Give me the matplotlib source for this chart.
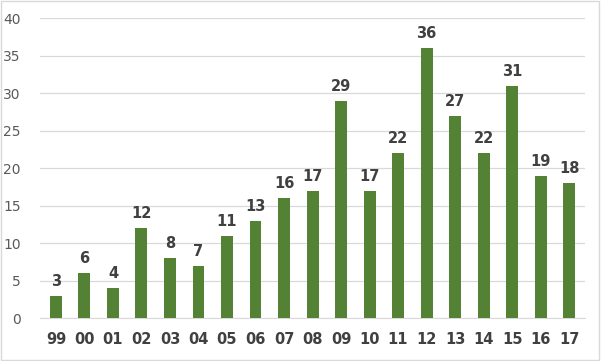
import matplotlib.pyplot as plt

years = ["99", "00", "01", "02", "03", "04", "05", "06", "07", "08",
         "09", "10", "11", "12", "13", "14", "15", "16", "17"]
counts = [3, 6, 4, 12, 8, 7, 11, 13, 16, 17, 29, 17, 22, 36, 27, 22, 31, 19, 18]

fig = plt.figure(figsize=(6.01, 3.61), dpi=100)
ax = fig.add_axes([0.067, 0.119, 0.906, 0.831])

x = range(len(years))
bars = ax.bar(x, counts, width=0.42, color="#548235", zorder=3)

for xi, v in zip(x, counts):
    ax.text(xi, v + 0.9, str(v), ha="center", va="bottom",
            fontsize=10.5, fontweight="bold", color="#404040")

ax.set_xlim(-0.55, len(years) - 0.45)
ax.set_ylim(0, 40)
ax.set_yticks(range(0, 41, 5))
ax.set_xticks(list(x))
ax.set_xticklabels(years, fontsize=10.5, fontweight="bold", color="#404040")
ax.tick_params(axis="y", labelsize=10, labelcolor="#595959", length=0, pad=14)
ax.tick_params(axis="x", length=0, pad=10)
ax.grid(axis="y", color="#d9d9d9", linewidth=0.9, zorder=0)
for s in ["top", "right", "left"]:
    ax.spines[s].set_visible(False)
ax.spines["bottom"].set_color("#d9d9d9")

# thin frame around the whole chart
fig.patches.append(plt.Rectangle((0.002, 0.003), 0.995, 0.993, transform=fig.transFigure,
                                 fill=False, edgecolor="#d9d9d9", linewidth=1))

fig.savefig("out.png", dpi=100)
